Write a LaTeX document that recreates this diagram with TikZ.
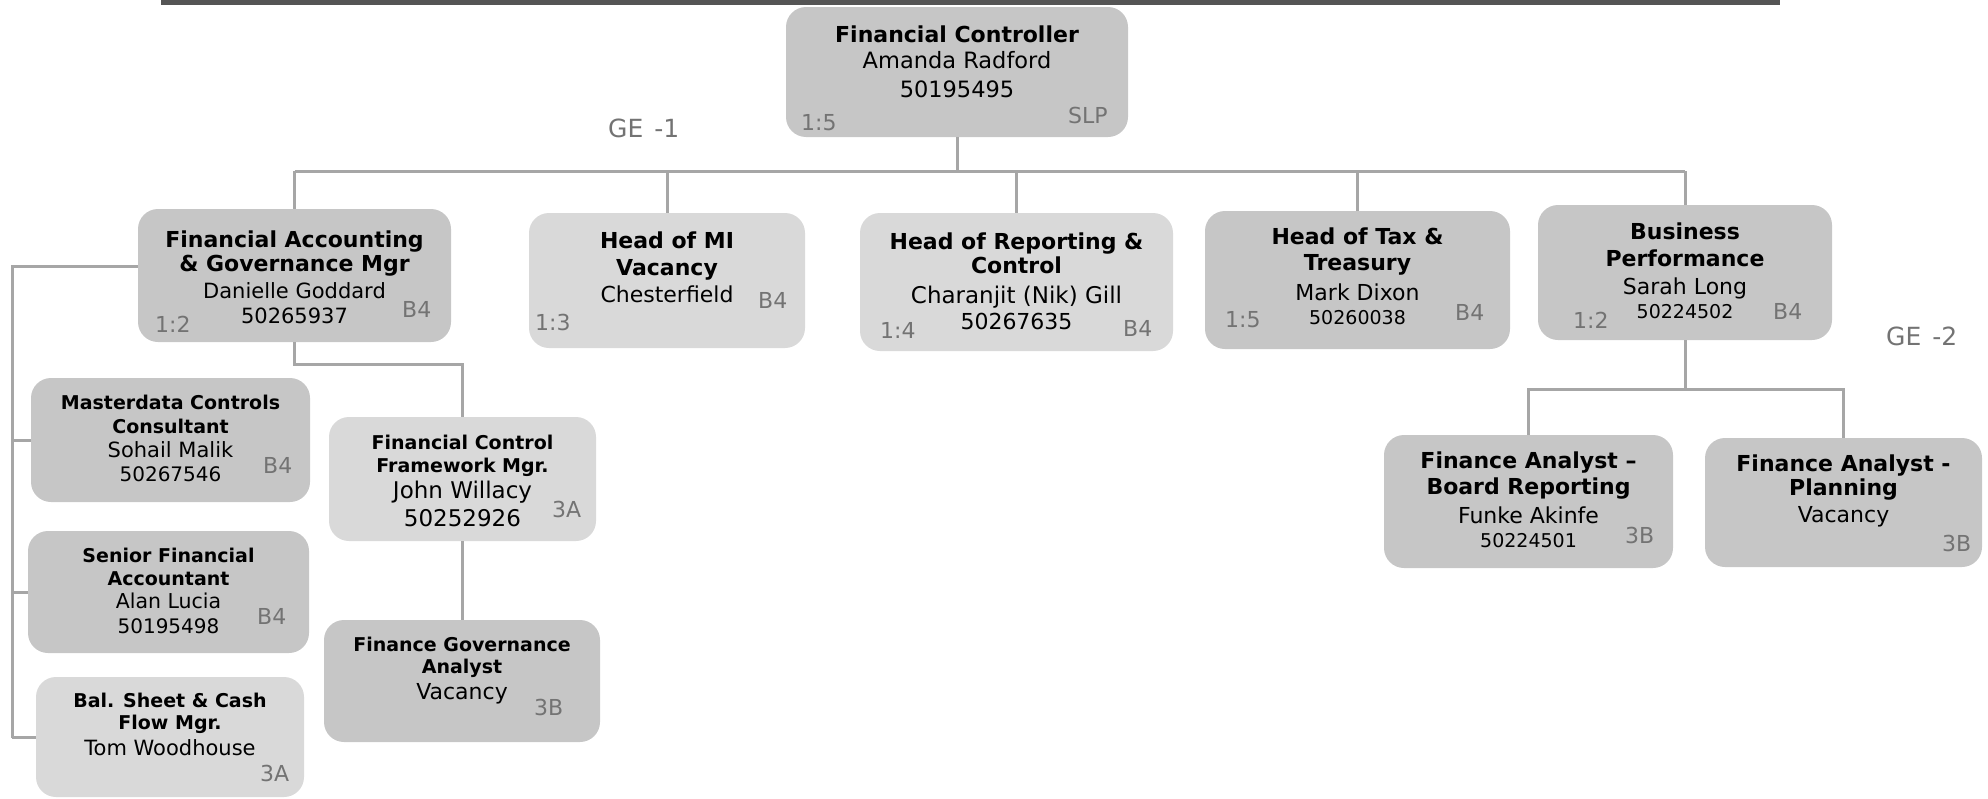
\documentclass[tikz,border=0pt]{standalone}
\usepackage{fontspec}
\setmainfont{DejaVu Sans}
\definecolor{boxdark}{HTML}{C6C6C6}
\definecolor{boxlight}{HTML}{D9D9D9}
\definecolor{linegray}{HTML}{A6A6A6}
\definecolor{labelgray}{HTML}{737373}
\definecolor{bargray}{HTML}{555555}
\tikzset{
  conn/.style={draw=linegray, line width=3pt},
  orgbox/.style={rectangle, rounded corners=20pt, inner sep=0pt, draw=none},
  dk/.style={orgbox, fill=boxdark},
  lt/.style={orgbox, fill=boxlight},
  ttl/.style={anchor=base, inner sep=0pt, font=\bfseries\fontsize{#1}{#1}\selectfont},
  ttl/.default=22,
  nm/.style={anchor=base, inner sep=0pt, font=\fontsize{#1}{#1}\selectfont},
  nm/.default=22,
  gl/.style={anchor=base west, inner sep=0pt, text=labelgray, font=\fontsize{22}{22}\selectfont},
  ge/.style={anchor=base west, inner sep=0pt, text=labelgray, font=\fontsize{25}{25}\selectfont}
}
\begin{document}
\begin{tikzpicture}[x=1pt,y=-1pt]
\useasboundingbox (0,0) rectangle (1988,798);
% top bar
\fill[bargray] (161,0) rectangle (1780,5);

% boxes
\node[dk, minimum width=342pt, minimum height=130pt] (top) at (957,72) {};
\node[dk, minimum width=313pt, minimum height=133pt] (fa) at (294.5,275.5) {};
\node[lt, minimum width=276pt, minimum height=135pt] (mi) at (667,280.5) {};
\node[lt, minimum width=313pt, minimum height=138pt] (rep) at (1016.5,282) {};
\node[dk, minimum width=305pt, minimum height=138pt] (tax) at (1357.5,280) {};
\node[dk, minimum width=294pt, minimum height=135pt] (bp) at (1685,272.5) {};
\node[dk, minimum width=289pt, minimum height=133pt] (fabr) at (1528.5,501.5) {};
\node[dk, minimum width=277pt, minimum height=129pt] (fap) at (1843.5,502.5) {};
\node[dk, minimum width=279pt, minimum height=124pt] (md) at (170.5,440) {};
\node[dk, minimum width=281pt, minimum height=122pt] (sen) at (168.5,592) {};
\node[lt, minimum width=268pt, minimum height=120pt] (bal) at (170,737) {};
\node[lt, minimum width=267pt, minimum height=124pt] (fcf) at (462.5,479) {};
\node[dk, minimum width=276pt, minimum height=122pt] (fg) at (462,681) {};

% connectors
\coordinate (bus) at (0,171);
\coordinate (bbus) at (0,389);
\coordinate (lt) at (12,266);
\coordinate (lb) at (12,738);
\draw[conn] (top.south) -- (top.south |- bus);
\draw[conn] (fa.north |- bus) -- (bp.north |- bus);
\foreach \c in {fa,mi,rep,tax,bp} \draw[conn] (\c.north |- bus) -- (\c.north);
\draw[conn] (fa.west |- lt) -- (lt) -- (lb);
\foreach \c in {md,sen,bal} \draw[conn] (lt |- \c.west) -- (\c.west);
\draw[conn] (fa.south) -- ++(0,22) -| (fcf.north);
\draw[conn] (fcf.south) -- (fcf.south |- fg.north);
\draw[conn] (bp.south) -- (bp.south |- bbus);
\draw[conn] (fabr.north) -- (fabr.north |- bbus) -- (fap.north |- bbus) -- (fap.north);

% top box text
\node[ttl] (top1) at (957,42) {Financial Controller};
\node[nm=22.5] (top2) at (957,68) {Amanda Radford};
\node[nm=22.5] (top3) at (957,97) {50195495};
\node[gl] (topa) at (801,130) {1:5};
\node[gl] (topb) at (1068,123) {SLP};
\node[ge] (ge1) at (608,137) {GE\kern3pt{} -1};
\node[ge] (ge2) at (1886,345) {GE\kern3pt{} -2};

% FA
\node[ttl] (fa1) at (294.5,247) {Financial Accounting};
\node[ttl] (fa2) at (294.5,271) {\& Governance Mgr};
\node[nm=21] (fa3) at (294.5,298) {Danielle Goddard};
\node[nm=21] (fa4) at (294.5,323) {50265937};
\node[gl] (faa) at (155,332) {1:2};
\node[gl] (fab) at (402,317) {B4};

% MI
\node[ttl] (mi1) at (667,248) {Head of MI};
\node[ttl] (mi2) at (667,275) {Vacancy};
\node[nm] (mi3) at (667,302) {Chesterfield};
\node[gl] (mia) at (535,330) {1:3};
\node[gl] (mib) at (758,308) {B4};

% Reporting
\node[ttl] (rep1) at (1016.5,249) {Head of Reporting \&};
\node[ttl] (rep2) at (1016.5,273) {Control};
\node[nm=23] (rep3) at (1016.5,303) {Charanjit (Nik) Gill};
\node[nm] (rep4) at (1016.5,329) {50267635};
\node[gl] (repa) at (880,338) {1:4};
\node[gl] (repb) at (1123,336) {B4};

% Tax
\node[ttl] (tax1) at (1357.5,244) {Head of Tax \&};
\node[ttl] (tax2) at (1357.5,270) {Treasury};
\node[nm] (tax3) at (1357.5,300) {Mark Dixon};
\node[nm=19] (tax4) at (1357.5,324) {50260038};
\node[gl] (taxa) at (1225,327) {1:5};
\node[gl] (taxb) at (1455,320) {B4};

% BP
\node[ttl] (bp1) at (1685,239) {Business};
\node[ttl] (bp2) at (1685,266) {Performance};
\node[nm] (bp3) at (1685,294) {Sarah Long};
\node[nm=19] (bp4) at (1685,318) {50224502};
\node[gl] (bpa) at (1573,328) {1:2};
\node[gl] (bpb) at (1773,319) {B4};

% FA-BR
\node[ttl] (fabr1) at (1528.5,468) {Finance Analyst –};
\node[ttl] (fabr2) at (1528.5,494) {Board Reporting};
\node[nm] (fabr3) at (1528.5,523) {Funke Akinfe};
\node[nm=19] (fabr4) at (1528.5,547) {50224501};
\node[gl] (fabrb) at (1625,543) {3B};

% FA-P
\node[ttl] (fap1) at (1843.5,471) {Finance Analyst -};
\node[ttl] (fap2) at (1843.5,495) {Planning};
\node[nm] (fap3) at (1843.5,522) {Vacancy};
\node[gl] (fapb) at (1942,551) {3B};

% Masterdata
\node[ttl=19] (md1) at (170.5,409) {Masterdata Controls};
\node[ttl=19] (md2) at (170.5,433) {Consultant};
\node[nm=21] (md3) at (170.5,457) {Sohail Malik};
\node[nm=20] (md4) at (170.5,481) {50267546};
\node[gl] (mdb) at (263,473) {B4};

% Senior
\node[ttl=19] (sen1) at (168.5,562) {Senior Financial};
\node[ttl=19] (sen2) at (168.5,585) {Accountant};
\node[nm=20.5] (sen3) at (168.5,608) {Alan Lucia};
\node[nm=20] (sen4) at (168.5,633) {50195498};
\node[gl] (senb) at (257,624) {B4};

% Bal
\node[ttl=19] (bal1) at (170,707) {Bal. Sheet \& Cash};
\node[ttl=19] (bal2) at (170,729) {Flow Mgr.};
\node[nm=21] (bal3) at (170,755) {Tom Woodhouse};
\node[gl] (balb) at (260,781) {3A};

% FCF
\node[ttl=19] (fcf1) at (462.5,449) {Financial Control};
\node[ttl=19] (fcf2) at (462.5,472) {Framework Mgr.};
\node[nm=23] (fcf3) at (462.5,498) {John Willacy};
\node[nm=23] (fcf4) at (462.5,526) {50252926};
\node[gl] (fcfb) at (552,517) {3A};

% FG
\node[ttl=19] (fg1) at (462,651) {Finance Governance};
\node[ttl=19] (fg2) at (462,673) {Analyst};
\node[nm=22] (fg3) at (462,699) {Vacancy};
\node[gl] (fgb) at (534,715) {3B};
\end{tikzpicture}
\end{document}
